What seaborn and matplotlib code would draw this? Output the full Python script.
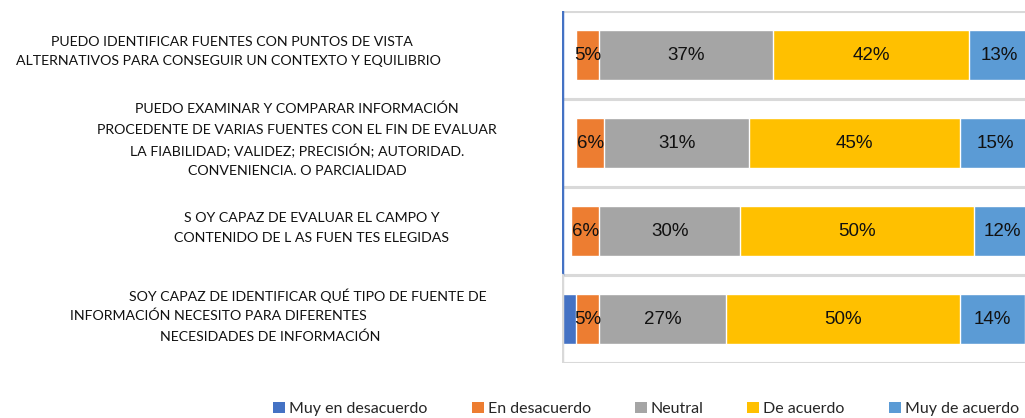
import numpy as np
import pandas as pd
import matplotlib
matplotlib.use("Agg")
import matplotlib.pyplot as plt
import seaborn as sns
from matplotlib.patches import Patch

sns.set_style("white")
plt.rcParams['font.family'] = ['Lato', 'DejaVu Sans']

# data (percent per answer)
preguntas = ["P1", "P2", "P3", "P4"]
muy_en_desacuerdo = [3, 3, 2, 3]
en_desacuerdo = [5, 6, 6, 5]
neutral = [37, 31, 30, 27]
de_acuerdo = [42, 45, 50, 50]
muy_de_acuerdo = [13, 15, 12, 14]

series_names = ["Muy en desacuerdo", "En desacuerdo", "Neutral", "De acuerdo", "Muy de acuerdo"]
legend_names = ["Muy en desacuerdo", "En desacuerdo", "Neutral", "De acuerdo", "Muy de acuerdo"]
colors = ["#4472C4", "#ED7D31", "#A5A5A5", "#FFC000", "#5B9BD5"]

label_lines = [
    ["PUEDO IDENTIFICAR FUENTES CON PUNTOS DE VISTA",
     "ALTERNATIVOS PARA CONSEGUIR UN CONTEXTO Y EQUILIBRIO"],
    ["PUEDO EXAMINAR Y COMPARAR INFORMACIÓN",
     "PROCEDENTE DE VARIAS FUENTES CON EL FIN DE EVALUAR",
     "LA FIABILIDAD; VALIDEZ; PRECISIÓN; AUTORIDAD.",
     "CONVENIENCIA. O PARCIALIDAD"],
    ["S OY CAPAZ DE EVALUAR EL CAMPO Y",
     "CONTENIDO DE L AS FUEN TES ELEGIDAS"],
    ["SOY CAPAZ DE IDENTIFICAR QUÉ TIPO DE FUENTE DE",
     "INFORMACIÓN NECESITO PARA DIFERENTES",
     "NECESIDADES DE INFORMACIÓN"],
]
# pixel centres of each label line (layout)
label_pos = [
    [(232, 42), (228, 61)],
    [(297, 109), (297, 130), (297, 151), (297, 171)],
    [(312, 218), (312, 238)],
    [(308, 296), (218, 316), (270, 337)],
]

df = pd.DataFrame({"pregunta": preguntas,
                   "Muy en desacuerdo": muy_en_desacuerdo,
                   "En desacuerdo": en_desacuerdo,
                   "Neutral": neutral,
                   "De acuerdo": de_acuerdo,
                   "Muy de acuerdo": muy_de_acuerdo})
cum = df[series_names].cumsum(axis=1)

W, H = 1025, 418
fig = plt.figure(figsize=(W / 100, H / 100), dpi=100)
ax = fig.add_axes([562 / W, (H - 363) / H, 468 / W, 352 / H])

bar_h = 0.57
# draw widest cumulative layer first so that each segment shows
for name, col in reversed(list(zip(series_names, colors))):
    if name == "Muy en desacuerdo":
        # only the last question shows this segment in the source image
        pal = {p: ("white" if i < 3 else col) for i, p in enumerate(preguntas)}
        sns.barplot(x=cum[name], y=df["pregunta"], hue=df["pregunta"], palette=pal,
                    orient="h", width=bar_h, legend=False, ax=ax, saturation=1)
    else:
        sns.barplot(x=cum[name], y=df["pregunta"], color=col, orient="h",
                    width=bar_h, ax=ax, saturation=1)

# percentage labels
for name in series_names[1:]:
    centers = cum[name] - df[name] / 2
    for i, (c, v) in enumerate(zip(centers, df[name])):
        ax.text(c, i, f"{v}%", ha="center", va="center", fontsize=13.5,
                family="Liberation Sans", color="#111111")

ax.set_xlim(0, 100)
ax.set_ylim(3.5, -0.5)
ax.set_xticks([])
ax.set_yticks([])
ax.set_xlabel("")
ax.set_ylabel("")
for s in ax.spines.values():
    s.set_visible(False)
for yb in [-0.5, 0.5, 1.5, 2.5, 3.5]:
    ax.axhline(yb, color="#D9D9D9", lw=2.2, zorder=0)
ax.axvline(0, ymin=0.25, ymax=1, color="#4472C4", lw=2.5, zorder=5)
ax.axvline(0, ymin=0, ymax=0.25, color="#D9D9D9", lw=2.5, zorder=5)

# question labels
for lines, pos in zip(label_lines, label_pos):
    for txt, (px, py) in zip(lines, pos):
        fig.text(px / W, 1 - py / H, txt, ha="center", va="center",
                 fontsize=10.2, color="#111111")

handles = [Patch(facecolor=c, edgecolor="none") for c in colors]
fig.legend(handles, legend_names, loc="center", bbox_to_anchor=(646 / W, 1 - 409 / H),
           ncol=5, frameon=False, fontsize=11.5, handlelength=0.75, handleheight=0.75,
           handletextpad=0.25, columnspacing=2.75, borderpad=0.2)

fig.savefig("out.png", dpi=100)
